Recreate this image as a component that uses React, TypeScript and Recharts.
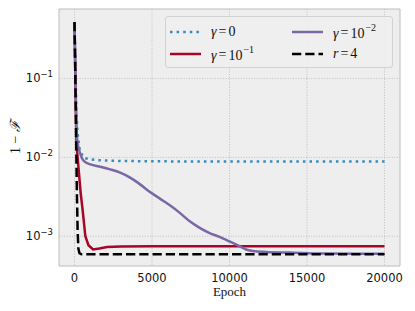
import { CartesianGrid, Line, LineChart, ReferenceArea, XAxis, YAxis } from "recharts";

// asse X: epoche, asse Y: 1 - F (scala log)
const xTicks = [0, 5000, 10000, 15000, 20000];
const yTicks = [0.001, 0.01, 0.1];
const yMinorTicks = [
  0.0005, 0.0006, 0.0007, 0.0008, 0.0009, 0.001,
  0.002, 0.003, 0.004, 0.005, 0.006, 0.007, 0.008, 0.009, 0.01,
  0.02, 0.03, 0.04, 0.05, 0.06, 0.07, 0.08, 0.09, 0.1,
  0.2, 0.3, 0.4, 0.5, 0.6, 0.7,
];

// gamma = 0 (blu, puntinato)
const gamma0Epochs = [0, 60, 120, 200, 350, 600, 900, 1500, 3000, 6000, 10000, 15000, 20000];
const gamma0Values = [0.52, 0.12, 0.04, 0.02, 0.012, 0.0099, 0.0095, 0.0092, 0.009, 0.0089, 0.0089, 0.0089, 0.0089];

// gamma = 1e-1 (rosso)
const gamma1Epochs = [0, 50, 100, 130, 250, 400, 520, 700, 900, 1200, 1600, 2100, 3000, 5000, 10000, 20000];
const gamma1Values = [0.52, 0.12, 0.03, 0.0146, 0.0077, 0.0035, 0.0022, 0.001, 0.00077, 0.00068, 0.0007, 0.00073, 0.00074, 0.00075, 0.00075, 0.00075];

// gamma = 1e-2 (viola)
const gamma2Epochs = [
  0, 50, 100, 173, 385, 596, 1026, 1667, 2308, 2949, 3590, 4231, 4872, 5513, 6154, 6795,
  7436, 8077, 8718, 9359, 10000, 10641, 11070, 11494, 12353, 13846, 16000, 20000,
];
const gamma2Values = [
  0.52, 0.15, 0.04, 0.0169, 0.0109, 0.009, 0.00815, 0.00762, 0.00705, 0.0064, 0.00553, 0.00455, 0.00364, 0.003, 0.00247, 0.00198,
  0.00155, 0.00128, 0.0011, 0.00098, 0.00086, 0.00075, 0.00068, 0.000652, 0.000633, 0.000622, 0.000605, 0.0006,
];

// r = 4 (nero, tratteggiato)
const r4Epochs = [0, 50, 100, 150, 200, 250, 320, 450, 20000];
const r4Values = [0.52, 0.12, 0.02, 0.004, 0.0012, 0.0007, 0.00061, 0.00059, 0.00059];

const zip = (xs: number[], ys: number[]) => xs.map((x, i) => ({ x, y: ys[i] }));

const series = [
  { key: "g0", color: "#348ABD", dash: "2.5 4.1", data: zip(gamma0Epochs, gamma0Values) },
  { key: "g1", color: "#A60628", dash: undefined, data: zip(gamma1Epochs, gamma1Values) },
  { key: "g2", color: "#7A68A6", dash: undefined, data: zip(gamma2Epochs, gamma2Values) },
  { key: "r4", color: "#000000", dash: "9.25 4", data: zip(r4Epochs, r4Values) },
];

const SANS = "'DejaVu Sans', sans-serif";
const SERIF = "'Liberation Serif', 'DejaVu Serif', serif";

function XTick({ x, y, payload }: any) {
  return (
    <text x={x} y={y + 14} textAnchor="middle" fontFamily={SANS} fontSize={11.5} fill="#111">
      {payload.value}
    </text>
  );
}

function YTick({ x, y, payload }: any) {
  const exp = Math.round(Math.log10(payload.value));
  return (
    <text x={x} y={y + 4} textAnchor="end" fontFamily={SANS} fontSize={11.5} fill="#111">
      10
      <tspan dy={-5} fontSize={8.5}>{"\u2212" + Math.abs(exp)}</tspan>
    </text>
  );
}

function Sup({ children }: { children: string }) {
  return <sup style={{ fontSize: 10, position: "relative", top: -1, marginLeft: 1 }}>{children}</sup>;
}

function LegendRow({ color, dash, label }: { color: string; dash?: string; label: any }) {
  return (
    <div style={{ display: "flex", alignItems: "center", height: 22 }}>
      <svg width={31} height={6} style={{ marginRight: 10 }}>
        <line x1={0} y1={3} x2={31} y2={3} stroke={color} strokeWidth={2.5} strokeDasharray={dash} />
      </svg>
      <span style={{ fontFamily: SERIF, fontSize: 14, color: "#111", whiteSpace: "nowrap" }}>{label}</span>
    </div>
  );
}

function LegendBox() {
  const gamma = <i>γ</i>;
  const eq = <span style={{ margin: "0 2px" }}>=</span>;
  return (
    <div
      style={{
        position: "absolute",
        left: 165,
        top: 16,
        width: 228,
        height: 52,
        border: "1px solid #d2d2d2",
        borderRadius: 3,
        background: "rgba(238,238,238,0.9)",
        display: "flex",
        padding: "4px 0 0 4px",
        boxSizing: "border-box",
      }}
    >
      <div style={{ width: 122 }}>
        <LegendRow color="#348ABD" dash="2.5 4.1" label={<>{gamma}{eq}0</>} />
        <LegendRow color="#A60628" label={<>{gamma}{eq}10<Sup>{"\u22121"}</Sup></>} />
      </div>
      <div>
        <LegendRow color="#7A68A6" label={<>{gamma}{eq}10<Sup>{"\u22122"}</Sup></>} />
        <LegendRow color="#000000" dash="9.25 4" label={<><i>r</i>{eq}4</>} />
      </div>
    </div>
  );
}

export default function App() {
  return (
    <div style={{ position: "absolute", left: 0, top: 0, width: 415, height: 311, background: "#fff" }}>
      <LineChart width={415} height={311} margin={{ top: 9, right: 15, left: 0, bottom: 0 }}>
        <CartesianGrid
          yAxisId="main"
          fill="#eeeeee"
          fillOpacity={1}
          stroke="#b5b5b5"
          strokeWidth={0.8}
          strokeDasharray="1 1.6"
          horizontalValues={yTicks}
          verticalValues={xTicks}
        />
        <XAxis
          dataKey="x"
          type="number"
          domain={[-1000, 21000]}
          ticks={xTicks}
          allowDataOverflow
          height={45}
          tickSize={0}
          tickLine={false}
          axisLine={false}
          tick={<XTick />}
          label={({ viewBox }: any) => (
            <text
              x={viewBox.x + viewBox.width / 2}
              y={viewBox.y + 30}
              textAnchor="middle"
              fontFamily={SERIF}
              fontSize={13}
              fill="#111"
            >
              Epoch
            </text>
          )}
        />
        <YAxis
          yAxisId="main"
          type="number"
          scale="log"
          domain={[0.00042, 0.76]}
          ticks={yTicks}
          allowDataOverflow
          width={59}
          tickSize={0}
          tickMargin={6}
          tickLine={false}
          axisLine={false}
          tick={<YTick />}
          label={() => (
            <text
              x={15}
              y={137}
              transform="rotate(-90 15 137)"
              textAnchor="middle"
              dominantBaseline="central"
              fontFamily={SERIF}
              fontSize={14}
              fill="#111"
            >
              1 − <tspan fontStyle="italic">ℱ</tspan>
            </text>
          )}
        />
        <YAxis
          yAxisId="minor"
          type="number"
          scale="log"
          domain={[0.00042, 0.76]}
          ticks={yMinorTicks}
          allowDataOverflow
          width={0}
          mirror
          tickSize={2}
          tickLine={{ stroke: "#9a9a9a" }}
          axisLine={false}
          tick={() => <g />}
        />
        <ReferenceArea
          yAxisId="main"
          x1={-1000}
          x2={21000}
          y1={0.00042}
          y2={0.76}
          fill="none"
          stroke="#bcbcbc"
          strokeWidth={1}
          ifOverflow="visible"
        />
        {series.map((s) => (
          <Line
            key={s.key}
            yAxisId="main"
            data={s.data}
            dataKey="y"
            type={s.key === "g2" ? "monotone" : "linear"}
            stroke={s.color}
            strokeWidth={2.5}
            strokeDasharray={s.dash}
            dot={false}
            activeDot={false}
            isAnimationActive={false}
          />
        ))}
      </LineChart>
      <LegendBox />
    </div>
  );
}
